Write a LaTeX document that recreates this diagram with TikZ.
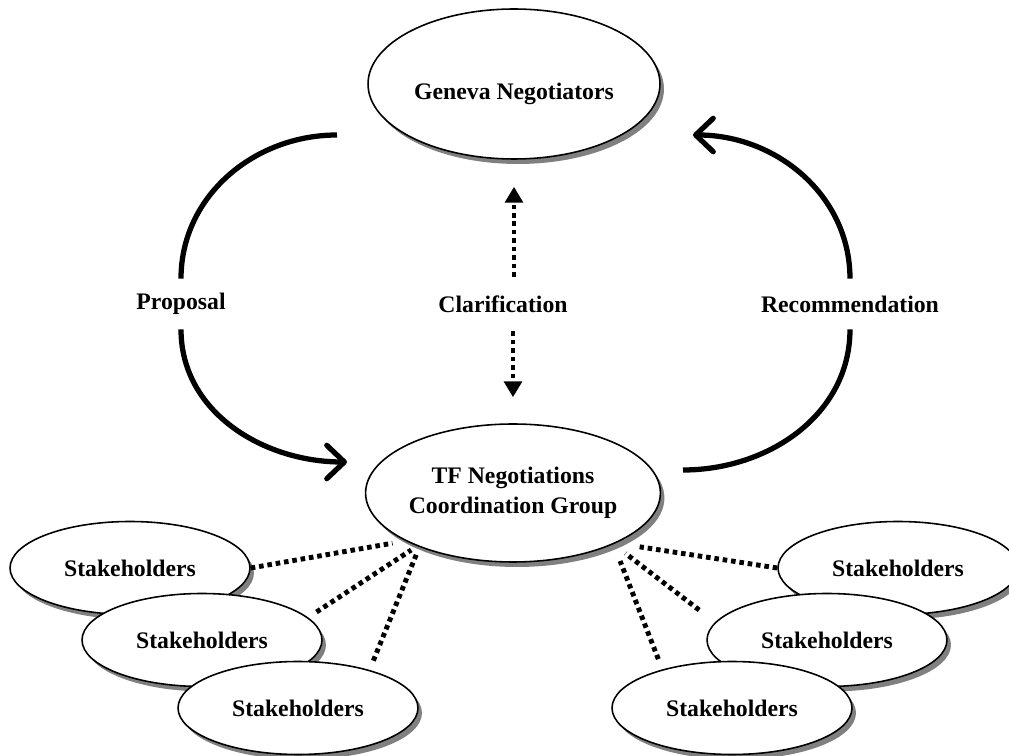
\documentclass[tikz,border=0pt]{standalone}
\usepackage{fontspec}
\setmainfont{Liberation Serif}
\usetikzlibrary{shapes.geometric,arrows.meta,shadows,positioning,calc}

\tikzset{
    bubble/.style={ellipse, draw, line width=0.9pt, fill=white, inner sep=0pt, align=center,
        font=\fontsize{13.5}{17}\selectfont\bfseries,
        drop shadow={shadow xshift=0.08cm, shadow yshift=-0.1cm, fill=black!50, opacity=1}},
    stake/.style={bubble, minimum width=4.8cm, minimum height=1.86cm},
    flowlbl/.style={font=\fontsize{13.5}{17}\selectfont\bfseries, inner sep=0pt, minimum height=1cm},
    flow/.style={line width=3pt},
    flowtip/.style={-{Straight Barb[round,length=10pt,width=19pt]}},
    dotline/.style={line width=2.8pt, dash pattern=on 2.6pt off 2.2pt},
    dotarrow/.style={dotline, -{Triangle[width=10pt,length=9pt]}}
}

\begin{document}
\begin{tikzpicture}[x=0.02cm, y=-0.02cm]
    \useasboundingbox (0,0) rectangle (1009,756);

    % Main bodies
    \node [bubble, minimum width=5.84cm, minimum height=3cm, text height=0.72cm] (gen) at (514,84) {Geneva Negotiators};
    \node [bubble, minimum width=5.7cm, minimum height=2.76cm] (tf) at (513,493) {TF Negotiations\\Coordination Group};

    % Stakeholders, left
    \node [stake] (stakeL1) at (130,568) {Stakeholders};
    \node [stake] (stakeL2) at (202,640) {Stakeholders};
    \node [stake] (stakeL3) at (298,708) {Stakeholders};

    % Stakeholders, right
    \node [stake] (stakeR1) at (898,568) {Stakeholders};
    \node [stake] (stakeR2) at (827,640) {Stakeholders};
    \node [stake] (stakeR3) at (732,708) {Stakeholders};

    % Labels
    \node [flowlbl] (prop) at (181,304) {Proposal};
    \node [flowlbl] (rec) at (850,304) {Recommendation};
    \node [flowlbl, minimum height=1.08cm] (clar) at (503,304) {Clarification};

    % Proposal
    \coordinate (propstart) at (337,135);
    \coordinate (propend) at (347,462);
    \draw [flow] (propstart) to[out=180, in=90] (prop);
    \draw [flow, flowtip] (prop) to[out=-90, in=180] (propend);

    % Recommendation
    \coordinate (recstart) at (683,470);
    \coordinate (recend) at (693,135);
    \draw [flow] (recstart) to[out=0, in=-90] (rec);
    \draw [flow, flowtip] (rec) to[out=90, in=0] (recend);

    % Clarification
    \draw [dotarrow, shorten >=0.54cm] (clar.north -| gen.south) -- (gen.south);
    \draw [dotarrow, shorten >=0.52cm] (clar.south -| tf.north) -- (tf.north);

    % Links to stakeholders
    \draw [dotline, shorten >=0.26cm] (stakeL1.east) -- (tf.204);
    \draw [dotline, shorten <=0.2cm, shorten >=0.14cm] (stakeL2.12) -- (tf.209);
    \draw [dotline, shorten <=0.2cm, shorten >=0.16cm] (stakeL3.28) -- (tf.210);
    \draw [dotline, shorten >=0.48cm] (stakeR1.west) -- (tf.334);
    \draw [dotline, shorten <=0.4cm, shorten >=0.3cm] (stakeR2.171) -- (tf.333);
    \draw [dotline, shorten <=0.22cm, shorten >=0.36cm] (stakeR3.151) -- (tf.333);
\end{tikzpicture}
\end{document}
